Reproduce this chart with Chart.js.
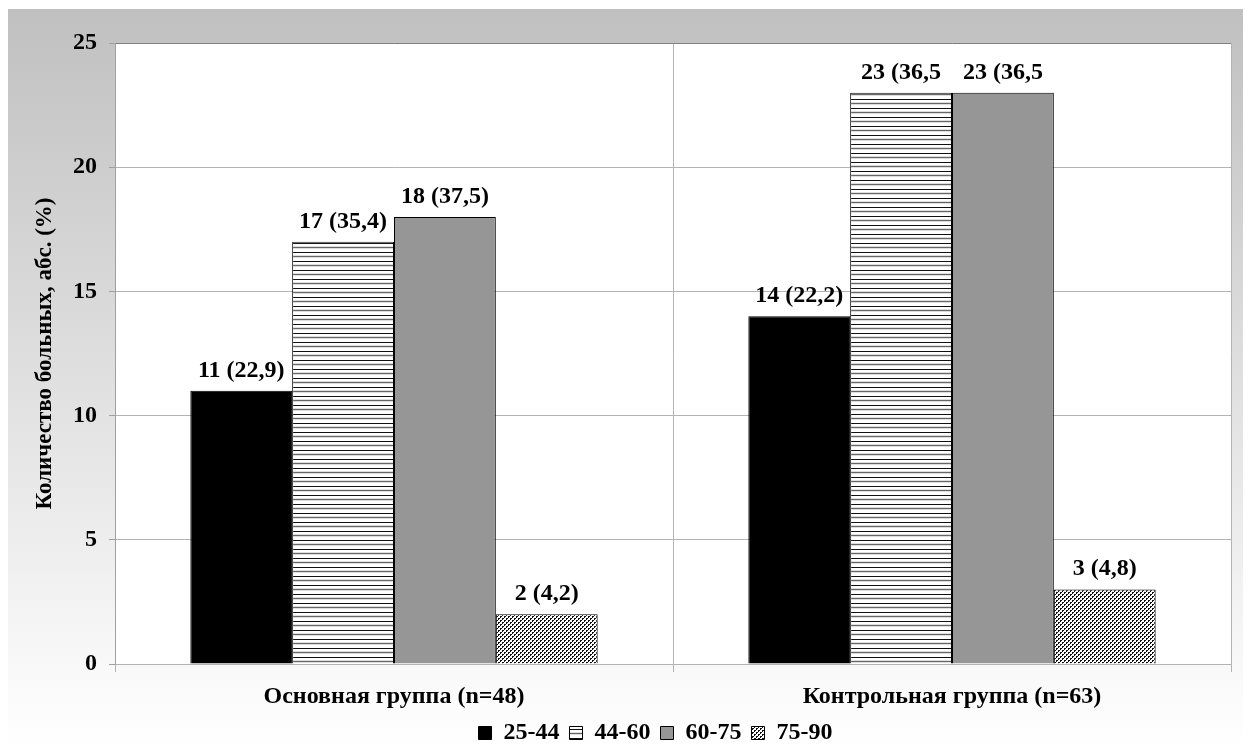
<!DOCTYPE html>
<html>
<head>
<meta charset="utf-8">
<script src="https://cdn.jsdelivr.net/npm/chart.js@4.4.1/dist/chart.umd.min.js"></script>
<style>
  html, body { margin: 0; padding: 0; background: #ffffff; }
  #wrap { width: 1248px; height: 745px; position: relative; }
</style>
</head>
<body>
<div id="wrap"><canvas id="chart" width="1248" height="745"></canvas></div>
<script>
// Groups of patients and the age bands shown as series
const categories = ['Основная группа (n=48)', 'Контрольная группа (n=63)'];
const seriesNames = ['25-44', '44-60', '60-75', '75-90'];

// Number of patients per age band in each group
const age25to44 = [11, 14];
const age44to60 = [17, 23];
const age60to75 = [18, 23];
const age75to90 = [2, 3];

// Share of patients (%) printed next to each count
const share25to44 = ['(22,9)', '(22,2)'];
const share44to60 = ['(35,4)', '(36,5'];
const share60to75 = ['(37,5)', '(36,5'];
const share75to90 = ['(4,2)', '(4,8)'];

const yTicks = [0, 5, 10, 15, 20, 25];

const FONT = '"Liberation Serif", "Times New Roman", serif';

// Fill patterns for the hatched bars
function makeTile(w, h, draw) {
  const c = document.createElement('canvas');
  c.width = w; c.height = h;
  const g = c.getContext('2d');
  draw(g);
  return g.createPattern(c, 'repeat');
}
const stripePattern = makeTile(8, 9, g => {
  g.fillStyle = '#ffffff'; g.fillRect(0, 0, 8, 9);
  g.fillStyle = '#111111'; g.fillRect(0, 0, 8, 1);
  g.fillStyle = '#dddddd'; g.fillRect(0, 3, 8, 1);
  g.fillStyle = '#666666'; g.fillRect(0, 4, 8, 1);
  g.fillStyle = '#dddddd'; g.fillRect(0, 5, 8, 1);
});
const dotPattern = makeTile(4, 4, g => {
  g.fillStyle = '#ffffff'; g.fillRect(0, 0, 4, 4);
  g.fillStyle = '#111111';
  [[0,0],[1,0],[0,1],[2,2],[3,2],[2,3]].forEach(([x, y]) => g.fillRect(x, y, 1, 1));
});

const shares = [share25to44, share44to60, share60to75, share75to90];

// Gradient backdrop behind the whole chart
const backdrop = {
  id: 'backdrop',
  beforeDraw(chart) {
    const ctx = chart.ctx;
    ctx.save();
    const grad = ctx.createLinearGradient(0, 9, 0, 745);
    grad.addColorStop(0, '#c0c0c0');
    grad.addColorStop(1, '#ffffff');
    ctx.fillStyle = grad;
    ctx.fillRect(8, 9, 1235, 736);
    const a = chart.chartArea;
    ctx.fillStyle = '#ffffff';
    ctx.fillRect(a.left, a.top, a.right - a.left, a.bottom - a.top);
    ctx.restore();
  }
};

// Legend row placed at the foot of the canvas, right of centre
const legendPlacement = {
  id: 'legendPlacement',
  afterLayout(chart) {
    const lg = chart.legend;
    if (!lg) return;
    lg.left += 36; lg.right += 36;
    lg.top = 711; lg.bottom = 711 + lg.height;
  }
};

// Count and share written above every bar
const barLabels = {
  id: 'barLabels',
  afterDatasetsDraw(chart) {
    const ctx = chart.ctx;
    ctx.save();
    ctx.font = 'bold 24px ' + FONT;
    ctx.fillStyle = '#000000';
    ctx.textAlign = 'center';
    ctx.textBaseline = 'alphabetic';
    chart.data.datasets.forEach((ds, di) => {
      chart.getDatasetMeta(di).data.forEach((bar, i) => {
        ctx.fillText(ds.data[i] + ' ' + shares[di][i], bar.x, bar.y - 14);
      });
    });
    ctx.restore();
  }
};

new Chart(document.getElementById('chart'), {
  type: 'bar',
  data: {
    labels: categories,
    datasets: [
      { label: seriesNames[0], data: age25to44, backgroundColor: '#000000' },
      { label: seriesNames[1], data: age44to60, backgroundColor: stripePattern },
      { label: seriesNames[2], data: age60to75, backgroundColor: '#969696' },
      { label: seriesNames[3], data: age75to90, backgroundColor: dotPattern }
    ].map(d => Object.assign(d, {
      borderColor: '#000000',
      borderWidth: 1,
      categoryPercentage: 0.73,
      barPercentage: 1
    }))
  },
  options: {
    responsive: false,
    animation: false,
    devicePixelRatio: 1,
    layout: { padding: { left: 8, top: 43, right: 17, bottom: -20 } },
    plugins: {
      legend: {
        position: 'bottom',
        labels: {
          font: { family: FONT, size: 24, weight: 'bold', lineHeight: 1 },
          color: '#000000',
          boxWidth: 13,
          boxHeight: 13,
          padding: 10
        }
      },
      tooltip: { enabled: false }
    },
    scales: {
      x: {
        grid: {
          offset: true,
          color: c => (c.index === 2 ? '#808080' : '#b4b4b4'),
          tickLength: 8,
          tickColor: '#b4b4b4'
        },
        border: { color: '#b4b4b4' },
        ticks: {
          font: { family: FONT, size: 24, weight: 'bold' },
          color: '#000000',
          padding: 10,
          maxRotation: 0
        },
        afterFit(scale) {
          const lg = scale.chart.legend;
          const legendH = lg && Number.isFinite(lg.height) ? lg.height : 44;
          scale.height = Math.max(50, 765 - legendH - 664);
        }
      },
      y: {
        min: 0,
        max: 25,
        afterBuildTicks(scale) {
          scale.ticks = yTicks.map(v => ({ value: v }));
        },
        grid: {
          color: c => (c.tick && c.tick.value === 25 ? '#808080' : '#b4b4b4'),
          tickLength: 6,
          tickColor: '#a0a0a0'
        },
        border: { color: '#a0a0a0' },
        ticks: {
          font: { family: FONT, size: 24, weight: 'bold' },
          color: '#000000',
          padding: 12
        },
        title: {
          display: true,
          text: 'Количество больных, абс. (%)',
          font: { family: FONT, size: 23, weight: 'bold' },
          color: '#000000',
          padding: { top: 23, bottom: 0 }
        },
        afterFit(scale) { scale.width = 107; }
      }
    }
  },
  plugins: [backdrop, legendPlacement, barLabels]
});
</script>
</body>
</html>
